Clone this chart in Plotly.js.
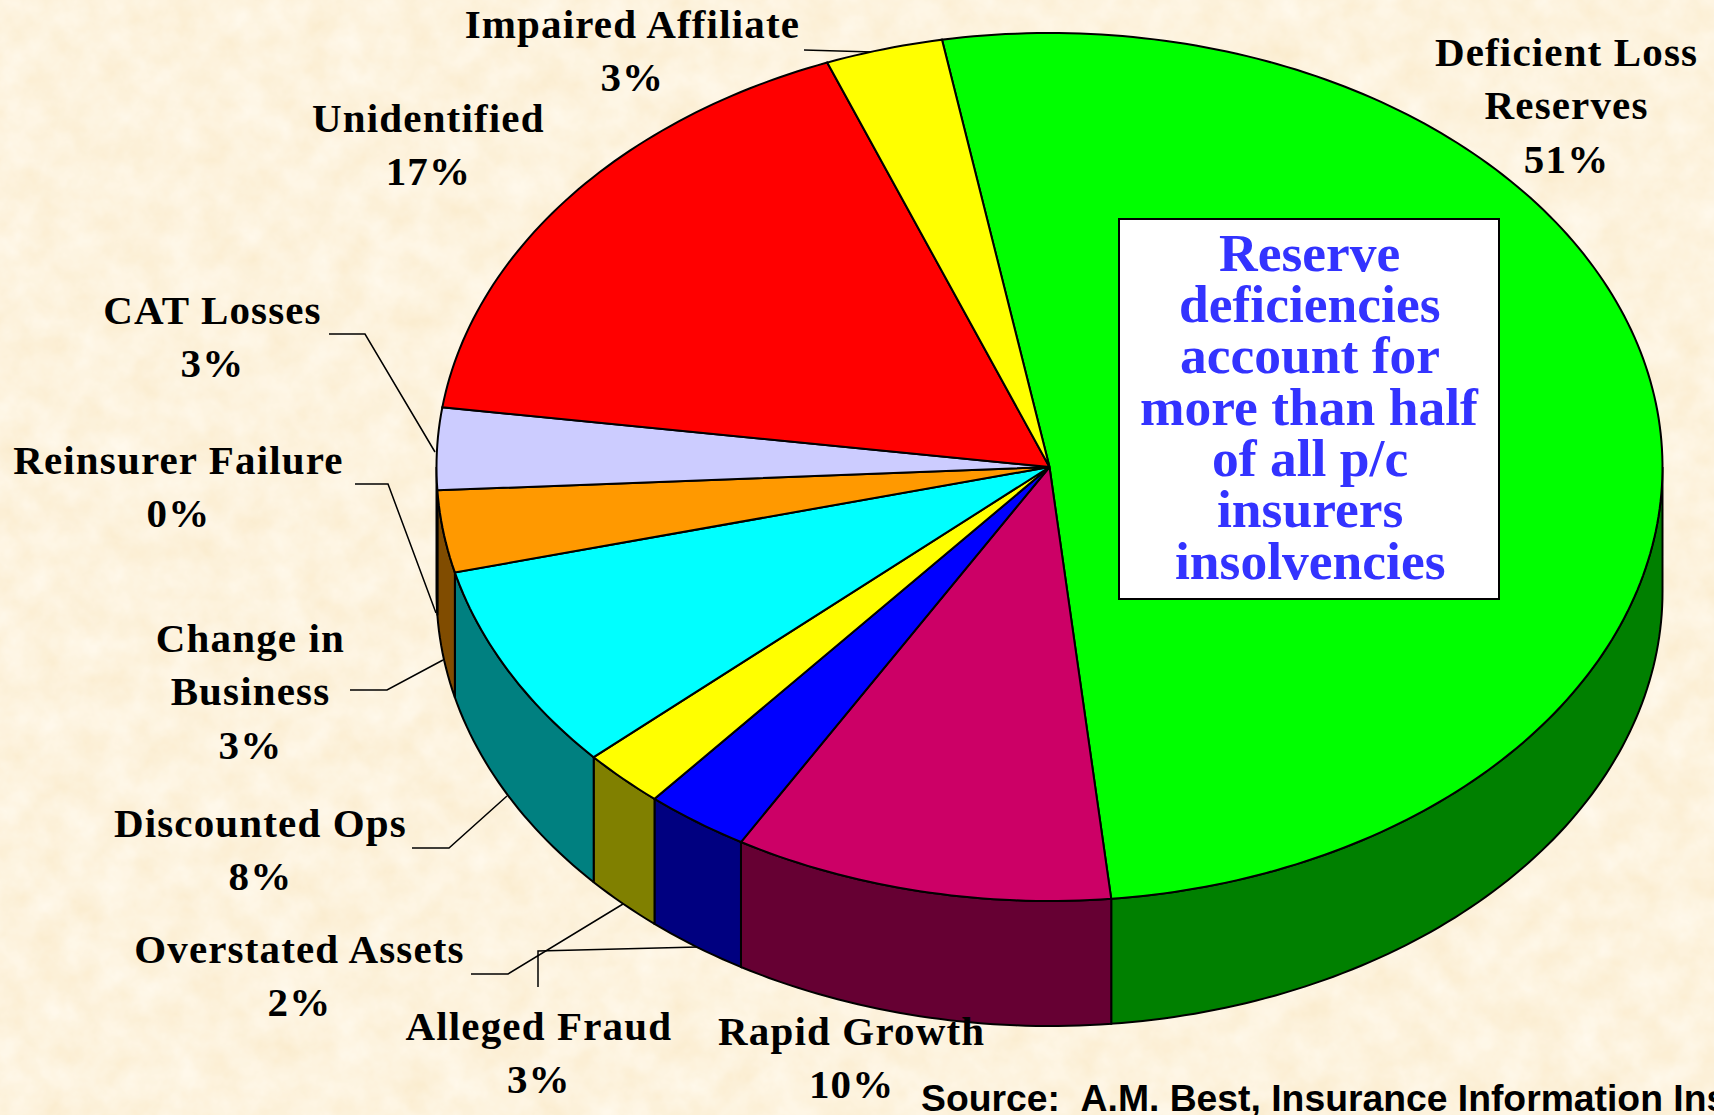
<!DOCTYPE html>
<html>
<head>
<meta charset="utf-8">
<script src="https://cdn.plot.ly/plotly-3.0.1.min.js"></script>
<style>
html,body{margin:0;padding:0;overflow:hidden;background:#fdf3de;}
#chart{width:1714px;height:1115px;position:relative;}
#tex{position:absolute;left:0;top:0;}
</style>
</head>
<body>
<div style="position:relative;width:1714px;height:1115px;overflow:hidden">
<svg id="tex" width="1714" height="1115" xmlns="http://www.w3.org/2000/svg">
<filter id="parch" x="0" y="0" width="100%" height="100%" color-interpolation-filters="sRGB">
<feTurbulence type="fractalNoise" baseFrequency="0.03" numOctaves="4" seed="7"/>
<feColorMatrix type="matrix" values="0.02 0 0 0 0.982  0.06 0 0 0 0.922  0.14 0 0 0 0.80  0 0 0 0 1"/>
</filter>
<rect width="1714" height="1115" filter="url(#parch)"/>
</svg>
<div id="chart"></div>
</div>
<script>
// Slice data, clockwise from the start of the largest slice
var categories = ['Deficient Loss<br>Reserves','Rapid Growth','Alleged Fraud','Overstated Assets','Discounted Ops','Change in<br>Business','Reinsurer Failure','CAT Losses','Unidentified','Impaired Affiliate'];
var shares = [51.2,10,2.75,2.2,7.75,3.05,0,3.05,16.9,3.1];
var topColors = ['#00ff00','#cc0066','#0000ff','#ffff00','#00ffff','#ff9900','#ff9900','#ccccff','#ff0000','#ffff00'];
var sideColors = ['#008000','#660033','#000080','#808000','#008080','#804c00','#804c00','#666680','#800000','#808000'];
var labelX = [1566,851,539,299,260,250,178,212,428,632];
var labelY = [105.7,1057.7,1052.7,975.7,849.7,691.7,486.5,336.7,144.7,50.2];
var leaderLines = [
  [[804,50],[873,52]],
  [[329,334],[365,334],[435,452]],
  [[355,484],[388,484],[436,613]],
  [[350,690],[387,690],[443,660]],
  [[412,848],[449,848],[507,796]],
  [[471,974],[508,974],[623,904]],
  [[538,987],[538,951],[698,947]]
];
var calloutLines = ['Reserve','deficiencies','account for','more than half','of all p/c','insurers','insolvencies'];
var calloutFirstY = 252.7, calloutStep = 51.3, calloutX = 1309.5;
var sourceText = 'Source:\u00a0\u00a0A.M. Best, Insurance Information Institute';

// Pie geometry
var CX = 1049.5, CY = 467, RX = 613, RY = 434, DEPTH = 125, START = -10.1;

function rim(deg, drop){
  var a = deg*Math.PI/180;
  return [CX + RX*Math.sin(a), CY - RY*Math.cos(a) + (drop||0)];
}
function arc(a0, a1, drop){
  var pts = [], n = Math.max(1, Math.ceil(Math.abs(a1-a0)));
  for (var i=0;i<=n;i++) pts.push(rim(a0+(a1-a0)*i/n, drop));
  return pts;
}
function poly(pts, fill, name){
  return {type:'scatter',mode:'lines',x:pts.map(function(p){return p[0];}),y:pts.map(function(p){return p[1];}),
    fill:'toself',fillcolor:fill,line:{color:'#000',width:2,simplify:false},name:name,hoverinfo:'name',showlegend:false};
}
var total = shares.reduce(function(s,v){return s+v;},0);
var walls = [], tops = [], cur = START;
shares.forEach(function(v,i){
  var a0 = cur, a1 = cur + v/total*360; cur = a1;
  if (v === 0) return;
  var name = categories[i].replace('<br>',' ');
  tops.push(poly([[CX,CY]].concat(arc(a0,a1)).concat([[CX,CY]]), topColors[i], name));
  var w0 = Math.max(a0,90), w1 = Math.min(a1,270);
  if (w1 > w0) walls.push(poly(arc(w0,w1).concat(arc(w1,w0,DEPTH)).concat([rim(w0)]), sideColors[i], name));
});
var leaders = leaderLines.map(function(l){
  return {type:'scatter',mode:'lines',x:l.map(function(p){return p[0];}),y:l.map(function(p){return p[1];}),
    line:{color:'#000',width:1.5},hoverinfo:'skip',showlegend:false};
});

var serif = 'Liberation Serif, Times New Roman, serif';
var annotations = categories.map(function(c,i){
  return {xref:'x',yref:'y',x:labelX[i],y:labelY[i],text:c+'<br>'+Math.round(shares[i])+'%',showarrow:false,
    xanchor:'center',yanchor:'middle',align:'center',font:{family:serif,size:41,color:'#000',weight:700}};
});
calloutLines.forEach(function(t,i){
  annotations.push({xref:'x',yref:'y',x:calloutX,y:calloutFirstY+i*calloutStep,text:t,showarrow:false,
    xanchor:'center',yanchor:'middle',font:{family:serif,size:53.5,color:'#3333ff',weight:700}});
});
annotations.push({xref:'x',yref:'y',x:919,y:1098,text:sourceText,showarrow:false,xanchor:'left',yanchor:'middle',
  font:{family:'Liberation Sans, Arial, sans-serif',size:37.3,color:'#000',weight:700}});

var layout = {
  width:1714,height:1115,margin:{l:0,r:0,t:0,b:0},
  paper_bgcolor:'rgba(0,0,0,0)',plot_bgcolor:'rgba(0,0,0,0)',showlegend:false,
  xaxis:{range:[0,1714],visible:false,fixedrange:true},
  yaxis:{range:[1115,0],visible:false,fixedrange:true},
  shapes:[{type:'rect',xref:'x',yref:'y',x0:1119,x1:1499,y0:219,y1:599,fillcolor:'#fff',line:{color:'#000',width:2},layer:'above'}],
  annotations:annotations
};
Plotly.newPlot('chart', leaders.concat(walls).concat(tops), layout, {displayModeBar:false,staticPlot:true}).then(function(){
  document.querySelectorAll('.annotation').forEach(function(a){
    var idx = +a.getAttribute('data-index');
    if (idx < categories.length) {
      var t = a.querySelector('text');
      if (t) t.style.letterSpacing = '1.15px';
    }
  });
});
</script>
</body>
</html>
